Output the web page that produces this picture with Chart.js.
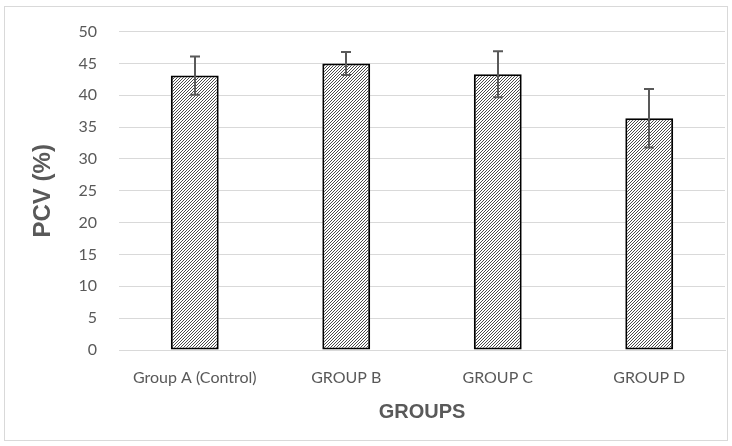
<!DOCTYPE html>
<html>
<head>
<meta charset="utf-8">
<script src="https://cdn.jsdelivr.net/npm/chart.js@4/dist/chart.umd.min.js"></script>
<style>
html,body{margin:0;padding:0;background:#fff;}
#wrap{position:absolute;left:0;top:0;width:732px;height:446px;}
</style>
</head>
<body>
<div id="wrap"><canvas id="c" width="732" height="446"></canvas></div>
<script>
const categories = ["Group A (Control)", "GROUP B", "GROUP C", "GROUP D"];
const pcvMeans = [43.1, 45.0, 43.3, 36.4];
const pcvErrors = [3.0, 1.8, 3.6, 4.6];
const yTicks = [0, 5, 10, 15, 20, 25, 30, 35, 40, 45, 50];

function makePattern() {
  const p = document.createElement('canvas');
  p.width = 3; p.height = 3;
  const g = p.getContext('2d');
  g.fillStyle = '#ffffff';
  g.fillRect(0, 0, 3, 3);
  g.fillStyle = '#4a4a4a';
  g.fillRect(0, 2, 1, 1);
  g.fillRect(1, 1, 1, 1);
  g.fillRect(2, 0, 1, 1);
  return document.getElementById('c').getContext('2d').createPattern(p, 'repeat');
}

const errorBarPlugin = {
  id: 'errorBars',
  afterDatasetsDraw(chart) {
    const ctx = chart.ctx;
    const meta = chart.getDatasetMeta(0);
    const y = chart.scales.y;
    ctx.save();
    ctx.strokeStyle = '#595959';
    ctx.lineWidth = 2;
    meta.data.forEach((bar, i) => {
      const x = Math.round(bar.x);
      const top = y.getPixelForValue(pcvMeans[i] + pcvErrors[i]);
      const bot = y.getPixelForValue(pcvMeans[i] - pcvErrors[i]);
      ctx.beginPath();
      ctx.moveTo(x, top); ctx.lineTo(x, bot);
      ctx.moveTo(x - 5, top); ctx.lineTo(x + 5, top);
      ctx.moveTo(x - 5, bot); ctx.lineTo(x + 5, bot);
      ctx.stroke();
    });
    ctx.restore();
  }
};

const borderPlugin = {
  id: 'outerBorder',
  beforeDraw(chart) {
    const ctx = chart.ctx;
    ctx.save();
    ctx.fillStyle = '#ffffff';
    ctx.fillRect(0, 0, chart.width, chart.height);
    ctx.strokeStyle = '#d9d9d9';
    ctx.lineWidth = 1;
    ctx.strokeRect(4.5, 6.5, 723, 434);
    ctx.restore();
  }
};

new Chart(document.getElementById('c'), {
  type: 'bar',
  data: {
    labels: categories,
    datasets: [{
      data: pcvMeans,
      backgroundColor: makePattern(),
      borderColor: '#000000',
      borderWidth: 2,
      borderSkipped: false,
      barPercentage: 0.316,
      categoryPercentage: 1.0
    }]
  },
  options: {
    responsive: false,
    animation: false,
    devicePixelRatio: 1,
    layout: { padding: { left: 25, right: 7, top: 22, bottom: 18 } },
    plugins: { legend: { display: false }, tooltip: { enabled: false } },
    scales: {
      x: {
        grid: { display: false, drawTicks: false },
        border: { display: true, color: '#d9d9d9', width: 1 },
        ticks: { color: '#595959', font: { family: 'Lato', size: 16 }, padding: 18, maxRotation: 0 },
        title: { display: true, text: 'GROUPS', color: '#595959', font: { family: 'Liberation Sans', size: 20, weight: 'bold' }, padding: { top: 8 } },
        afterFit(s) { s.height = 78; }
      },
      y: {
        min: 0, max: 50,
        afterBuildTicks(s) { s.ticks = yTicks.map(v => ({ value: v })); },
        grid: { color: '#d9d9d9', lineWidth: 1, drawTicks: false },
        border: { display: false },
        ticks: { color: '#595959', font: { family: 'Lato', size: 16 }, padding: 22 },
        title: { display: true, text: 'PCV (%)', color: '#595959', font: { family: 'Liberation Sans', size: 24, weight: 'bold' }, padding: { bottom: 8 } },
        afterFit(s) { s.width = 94; }
      }
    }
  },
  plugins: [borderPlugin, errorBarPlugin]
});
</script>
</body>
</html>
